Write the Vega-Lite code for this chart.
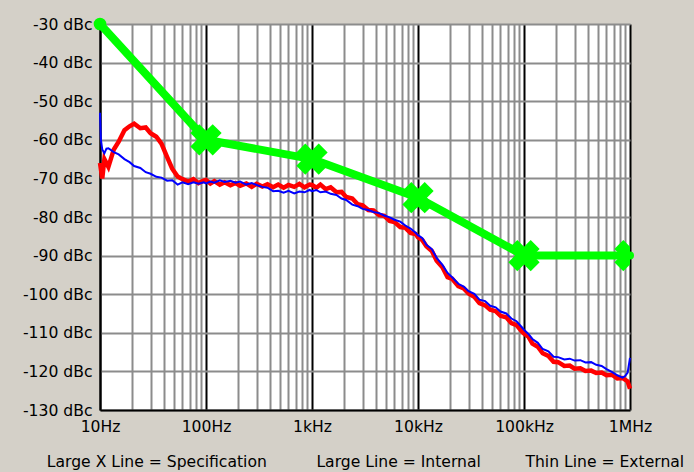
{
  "$schema": "https://vega.github.io/schema/vega-lite/v6.json",
  "width": 530,
  "height": 386,
  "autosize": "none",
  "padding": {"left": 100, "top": 24, "right": 64, "bottom": 62},
  "background": "#d4d0c8",
  "view": {"fill": "white", "stroke": null},
  "datasets": {
    "internal": [
      {"f": 10, "db": -66}, {"f": 10.5, "db": -70}, {"f": 11, "db": -65}, {"f": 12, "db": -67},
      {"f": 13.5, "db": -62.5}, {"f": 15, "db": -60.5}, {"f": 17, "db": -57.5}, {"f": 19, "db": -56.5},
      {"f": 21, "db": -55.8}, {"f": 24, "db": -57}, {"f": 27, "db": -56.8}, {"f": 30, "db": -58.3},
      {"f": 34, "db": -59.2}, {"f": 38, "db": -61}, {"f": 43, "db": -64.5}, {"f": 48, "db": -67.5},
      {"f": 54, "db": -69.5}, {"f": 60, "db": -70.2}, {"f": 68, "db": -70.8}, {"f": 76, "db": -70.2},
      {"f": 85, "db": -71.2}, {"f": 95, "db": -70.6},
      {"f": 100, "db": -70.4}, {"f": 110, "db": -71.3}, {"f": 120, "db": -70.7}, {"f": 135, "db": -71.6},
      {"f": 150, "db": -71}, {"f": 170, "db": -71.8}, {"f": 190, "db": -71.2}, {"f": 210, "db": -71.9},
      {"f": 240, "db": -71.3}, {"f": 270, "db": -72.2}, {"f": 300, "db": -71.4}, {"f": 340, "db": -72.1},
      {"f": 380, "db": -71.5}, {"f": 430, "db": -72.3}, {"f": 480, "db": -71.6}, {"f": 540, "db": -72.4},
      {"f": 600, "db": -71.7}, {"f": 680, "db": -72.2}, {"f": 760, "db": -71.4}, {"f": 850, "db": -72.3},
      {"f": 950, "db": -71.6},
      {"f": 1000, "db": -71.7}, {"f": 1100, "db": -72.4}, {"f": 1200, "db": -71.6}, {"f": 1350, "db": -72.8},
      {"f": 1500, "db": -72.3}, {"f": 1700, "db": -73.6}, {"f": 1900, "db": -73.5}, {"f": 2100, "db": -74.8},
      {"f": 2400, "db": -75.2}, {"f": 2700, "db": -76.7}, {"f": 3000, "db": -77}, {"f": 3400, "db": -78.2},
      {"f": 3800, "db": -78.3}, {"f": 4300, "db": -79.5}, {"f": 4800, "db": -79.7}, {"f": 5400, "db": -81},
      {"f": 6000, "db": -81.3}, {"f": 6800, "db": -82.6}, {"f": 7600, "db": -82.8}, {"f": 8500, "db": -84.1},
      {"f": 9500, "db": -84.4},
      {"f": 10000, "db": -85.3}, {"f": 11000, "db": -86}, {"f": 12000, "db": -87.6}, {"f": 13500, "db": -88.8},
      {"f": 15000, "db": -91.3}, {"f": 17000, "db": -93}, {"f": 19000, "db": -95.6}, {"f": 21000, "db": -96},
      {"f": 24000, "db": -97.9}, {"f": 27000, "db": -98.5}, {"f": 30000, "db": -99.8}, {"f": 34000, "db": -100.7},
      {"f": 38000, "db": -102.3}, {"f": 43000, "db": -102.9}, {"f": 48000, "db": -104}, {"f": 54000, "db": -104.4},
      {"f": 60000, "db": -105.6}, {"f": 68000, "db": -106}, {"f": 76000, "db": -107.5}, {"f": 85000, "db": -108},
      {"f": 95000, "db": -109.6},
      {"f": 100000, "db": -110.2}, {"f": 110000, "db": -111}, {"f": 120000, "db": -112.8}, {"f": 135000, "db": -113.6},
      {"f": 150000, "db": -115.3}, {"f": 170000, "db": -116}, {"f": 190000, "db": -117.5}, {"f": 210000, "db": -117.6},
      {"f": 240000, "db": -118.6}, {"f": 270000, "db": -118.5}, {"f": 300000, "db": -119.3}, {"f": 340000, "db": -119.2},
      {"f": 380000, "db": -119.9}, {"f": 430000, "db": -119.8}, {"f": 480000, "db": -120.4}, {"f": 540000, "db": -120.3},
      {"f": 600000, "db": -121}, {"f": 680000, "db": -120.9}, {"f": 760000, "db": -121.8}, {"f": 850000, "db": -121.7},
      {"f": 950000, "db": -122.6}, {"f": 1000000, "db": -124.5}
    ],
    "external": [
      {"f": 10, "db": -53}, {"f": 10.2, "db": -60}, {"f": 10.5, "db": -62.5}, {"f": 11, "db": -63.5},
      {"f": 11.5, "db": -62.3}, {"f": 12, "db": -62.2}, {"f": 13.5, "db": -63.2}, {"f": 15, "db": -63.8},
      {"f": 17, "db": -65}, {"f": 19, "db": -65.8}, {"f": 21, "db": -66.8}, {"f": 24, "db": -67.3},
      {"f": 27, "db": -68.4}, {"f": 30, "db": -68.8}, {"f": 34, "db": -69.6}, {"f": 38, "db": -69.8},
      {"f": 43, "db": -70.6}, {"f": 48, "db": -70.5}, {"f": 54, "db": -71.6}, {"f": 60, "db": -71},
      {"f": 68, "db": -71.5}, {"f": 76, "db": -71}, {"f": 85, "db": -71.4}, {"f": 95, "db": -71},
      {"f": 100, "db": -71.3}, {"f": 110, "db": -70.8}, {"f": 120, "db": -71.1}, {"f": 135, "db": -70.5},
      {"f": 150, "db": -70.9}, {"f": 170, "db": -70.6}, {"f": 190, "db": -71.1}, {"f": 210, "db": -70.8},
      {"f": 240, "db": -71.6}, {"f": 270, "db": -71.2}, {"f": 300, "db": -71.7}, {"f": 340, "db": -72.2},
      {"f": 380, "db": -72.4}, {"f": 430, "db": -73.3}, {"f": 480, "db": -73.2}, {"f": 540, "db": -73.7},
      {"f": 600, "db": -73.2}, {"f": 680, "db": -73.9}, {"f": 760, "db": -73.4}, {"f": 850, "db": -73.6},
      {"f": 950, "db": -73},
      {"f": 1000, "db": -73.3}, {"f": 1100, "db": -73}, {"f": 1200, "db": -73.6}, {"f": 1350, "db": -73.4},
      {"f": 1500, "db": -74}, {"f": 1700, "db": -74.3}, {"f": 1900, "db": -75.2}, {"f": 2100, "db": -75.6},
      {"f": 2400, "db": -76.8}, {"f": 2700, "db": -77.2}, {"f": 3000, "db": -77.9}, {"f": 3400, "db": -78.2},
      {"f": 3800, "db": -78.7}, {"f": 4300, "db": -79}, {"f": 4800, "db": -79.6}, {"f": 5400, "db": -80.1},
      {"f": 6000, "db": -80.7}, {"f": 6800, "db": -81.2}, {"f": 7600, "db": -82.2}, {"f": 8500, "db": -83},
      {"f": 9500, "db": -84.1},
      {"f": 10000, "db": -84.7}, {"f": 11000, "db": -85.5}, {"f": 12000, "db": -87.2}, {"f": 13500, "db": -88.3},
      {"f": 15000, "db": -90.6}, {"f": 17000, "db": -92.4}, {"f": 19000, "db": -94.5}, {"f": 21000, "db": -95.6},
      {"f": 24000, "db": -97.3}, {"f": 27000, "db": -98}, {"f": 30000, "db": -99.2}, {"f": 34000, "db": -99.9},
      {"f": 38000, "db": -101.4}, {"f": 43000, "db": -101.8}, {"f": 48000, "db": -103}, {"f": 54000, "db": -103.4},
      {"f": 60000, "db": -104.5}, {"f": 68000, "db": -105}, {"f": 76000, "db": -106.3}, {"f": 85000, "db": -107},
      {"f": 95000, "db": -108.5},
      {"f": 100000, "db": -109.2}, {"f": 110000, "db": -110.3}, {"f": 120000, "db": -111.6}, {"f": 135000, "db": -112.6},
      {"f": 150000, "db": -114.2}, {"f": 170000, "db": -114.8}, {"f": 190000, "db": -116.2}, {"f": 210000, "db": -116.3},
      {"f": 240000, "db": -116.9}, {"f": 270000, "db": -116.7}, {"f": 300000, "db": -117.2}, {"f": 340000, "db": -117.1},
      {"f": 380000, "db": -117.7}, {"f": 430000, "db": -117.6}, {"f": 480000, "db": -118.3}, {"f": 540000, "db": -118.6},
      {"f": 600000, "db": -119.4}, {"f": 680000, "db": -120.2}, {"f": 760000, "db": -121}, {"f": 850000, "db": -121.6},
      {"f": 900000, "db": -121.2}, {"f": 950000, "db": -120.3}, {"f": 1000000, "db": -116.5}
    ],
    "spec": [
      {"f": 10, "db": -30},
      {"f": 100, "db": -60},
      {"f": 1000, "db": -65},
      {"f": 10000, "db": -75},
      {"f": 100000, "db": -90},
      {"f": 1000000, "db": -90}
    ]
  },
  "encoding": {
    "x": {
      "field": "f",
      "type": "quantitative",
      "scale": {"type": "log", "domain": [10, 1000000], "nice": false},
      "axis": {
        "title": "Large X Line = Specification\u00a0\u00a0\u00a0\u00a0\u00a0\u00a0\u00a0\u00a0\u00a0\u00a0Large Line = Internal\u00a0\u00a0\u00a0\u00a0\u00a0\u00a0\u00a0\u00a0\u00a0Thin Line = External",
        "values": [10,20,30,40,50,60,70,80,90,100,200,300,400,500,600,700,800,900,1000,2000,3000,4000,5000,6000,7000,8000,9000,10000,20000,30000,40000,50000,60000,70000,80000,90000,100000,200000,300000,400000,500000,600000,700000,800000,900000,1000000],
        "labelExpr": "datum.value == 10 ? '10Hz' : datum.value == 100 ? '100Hz' : datum.value == 1000 ? '1kHz' : datum.value == 10000 ? '10kHz' : datum.value == 100000 ? '100kHz' : datum.value == 1000000 ? '1MHz' : ''",
        "labelOverlap": false,
        "labelBound": false,
        "labelFlush": false,
        "labelPadding": 9,
        "titlePadding": 20,
        "grid": true,
        "gridColor": {"condition": {"test": "indexof([10,100,1000,10000,100000,1000000], datum.value) >= 0", "value": "black"}, "value": "#8c8c8c"},
        "zindex": 0
      }
    },
    "y": {
      "field": "db",
      "type": "quantitative",
      "scale": {"domain": [-130, -30], "nice": false, "zero": false},
      "axis": {
        "title": null,
        "values": [-130,-120,-110,-100,-90,-80,-70,-60,-50,-40,-30],
        "labelExpr": "datum.value + ' dBc'",
        "labelPadding": 8,
        "labelFlush": false,
        "grid": true,
        "gridColor": "#8c8c8c",
        "zindex": 0
      }
    }
  },
  "layer": [
    {
      "data": {"name": "internal"},
      "mark": {"type": "line", "color": "#ff0000", "strokeWidth": 4.5, "strokeJoin": "miter"}
    },
    {
      "data": {"name": "external"},
      "mark": {"type": "line", "color": "#0000ff", "strokeWidth": 2}
    },
    {
      "data": {"name": "spec"},
      "mark": {"type": "line", "color": "#00ff00", "strokeWidth": 8, "strokeCap": "round", "strokeJoin": "round"}
    },
    {
      "data": {"name": "spec"},
      "transform": [{"filter": "datum.f > 10"}],
      "mark": {"type": "point", "shape": "cross", "angle": 45, "size": 1000, "filled": true, "color": "#00ff00", "opacity": 1, "clip": true}
    },
    {
      "data": {"name": "spec"},
      "transform": [{"filter": "datum.f == 10"}],
      "mark": {"type": "point", "shape": "circle", "size": 160, "filled": true, "color": "#00ff00", "opacity": 1}
    }
  ],
  "config": {
    "axis": {
      "labelFont": "DejaVu Sans",
      "labelFontSize": 15.6,
      "labelColor": "black",
      "titleFont": "DejaVu Sans",
      "titleFontSize": 15.6,
      "titleFontWeight": "normal",
      "titleColor": "black",
      "ticks": false,
      "domainColor": "black",
      "domainWidth": 2,
      "gridWidth": 2,
      "gridOpacity": 1
    }
  }
}
